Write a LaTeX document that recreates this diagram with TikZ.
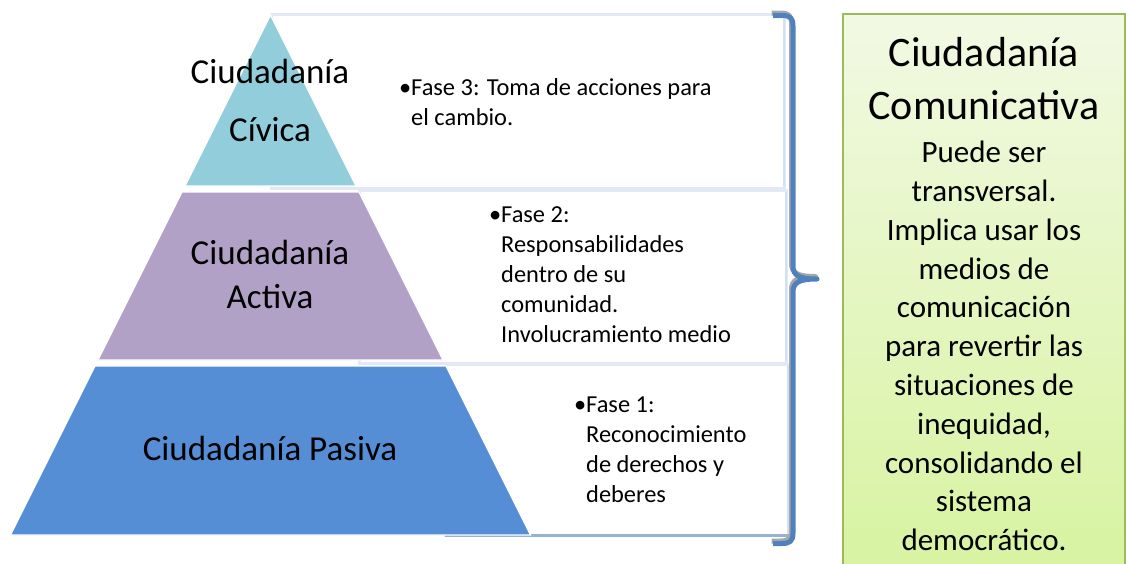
\documentclass[tikz,border=0pt]{standalone}
\usepackage{fontspec}
\setmainfont{Carlito}
\usetikzlibrary{positioning,calc}
\definecolor{civicaC}{HTML}{92CDDC}
\definecolor{activaC}{HTML}{B2A1C7}
\definecolor{pasivaC}{HTML}{558ED5}
\definecolor{boxline}{HTML}{E2E9F5}
\definecolor{boxside}{HTML}{D3E0F3}
\definecolor{boxlow}{HTML}{95B3D7}
\definecolor{braceC}{HTML}{4F81BD}
\definecolor{greenline}{HTML}{9BBB59}
\definecolor{greentop}{HTML}{F2F9E3}
\definecolor{greenlow}{HTML}{D7F3A0}

\begin{document}
\begin{tikzpicture}
[x=1pt,y=-1pt,
tier/.style={draw=white,line width=1.2pt},
T/.style={font=\fontsize{35}{44}\selectfont,inner sep=0pt,text height=0.7em,text depth=0.2em},
phasebox/.style={draw=boxline,line width=3pt,fill=white},
F/.style={font=\fontsize{24.4}{30}\selectfont,align=left,anchor=north west,inner sep=0pt},
G/.style={font=\fontsize{31}{38.8}\selectfont,align=center,anchor=north,inner sep=0pt},
brace/.style={line width=5pt,line cap=butt,line join=round}]
\useasboundingbox (0,0) rectangle (1126,563);
%%
%%%%%%%%%%%%%%%%%%
% boxes behind the pyramid
%%%%%%%%%%%%%%%%%%
\draw[phasebox] (271,14) rectangle (784,188);
\draw[phasebox] (359,190) rectangle (786,363);
\draw[phasebox] (445,364) rectangle (788,535);
\draw[boxside,line width=2pt] (784,16) -- (784,186) (786,192) -- (786,361) (788,366) -- (788,533);
\draw[boxlow,line width=3pt] (445,535) -- (789.5,535);
%%
%%%%%%%%%%%%%%%%%%
% pyramid
%%%%%%%%%%%%%%%%%%
\fill[tier,fill=civicaC] (270.5,15) -- (356,186) -- (185,186) -- cycle;
\fill[tier,fill=activaC] (182,192) -- (359,192) -- (443,360) -- (98,360) -- cycle;
\fill[tier,fill=pasivaC] (95,366) -- (446,366) -- (530.5,535) -- (10.5,535) -- cycle;
%%
\node[T] (civica1) at (270,81) {Ciudadanía};
\node[T] (civica2) at (270,139) {Cívica};
\node[T] (activa1) at (270,262) {Ciudadanía};
\node[T] (activa2) at (270,306) {Activa};
\node[T] (pasiva) at (270,458) {Ciudadanía Pasiva};
%%
%% phases
\node[F] (fase3) at (411,78) {\llap{\textbullet}Fase 3: Toma de acciones para\\el cambio.};
\node[F] (fase2) at (501,206) {\llap{\textbullet}Fase 2:\\Responsabilidades\\dentro de su\\comunidad.\\Involucramiento medio};
\node[F] (fase1) at (586,397) {\llap{\textbullet}Fase 1:\\Reconocimiento\\de derechos y\\deberes};
%%
%%%%%%%%%%%%%%%%%%
% brace
%%%%%%%%%%%%%%%%%%
\foreach \c/\dx/\dy in {gray!70/-1.5/2.5, braceC/0/0}{
\draw[brace,\c,shift={(\dx,-\dy)}] (773,15.5) -- (782,15.5)
  .. controls (790,15.5) and (793,18) .. (793,26) -- (793,266)
  .. controls (793,276) and (800,279) .. (817,279)
  .. controls (800,279) and (793,282) .. (793,292) -- (793,533)
  .. controls (793,541) and (790,543.5) .. (782,543.5) -- (773,543.5);
}
%%
%%%%%%%%%%%%%%%%%%
% green box
%%%%%%%%%%%%%%%%%%
\draw[greenline,line width=2pt,top color=greentop,bottom color=greenlow] (843,14) rectangle (1125,575);
\node[G,font=\fontsize{42}{53}\selectfont] (comtitle) at (984,37) {Ciudadanía\\Comunicativa};
\node[G] (comtext) at (984,141) {Puede ser\\transversal.\\Implica usar los\\medios de\\comunicación\\para revertir las\\situaciones de\\inequidad,\\consolidando el\\sistema\\democrático.};
\end{tikzpicture}
\end{document}
